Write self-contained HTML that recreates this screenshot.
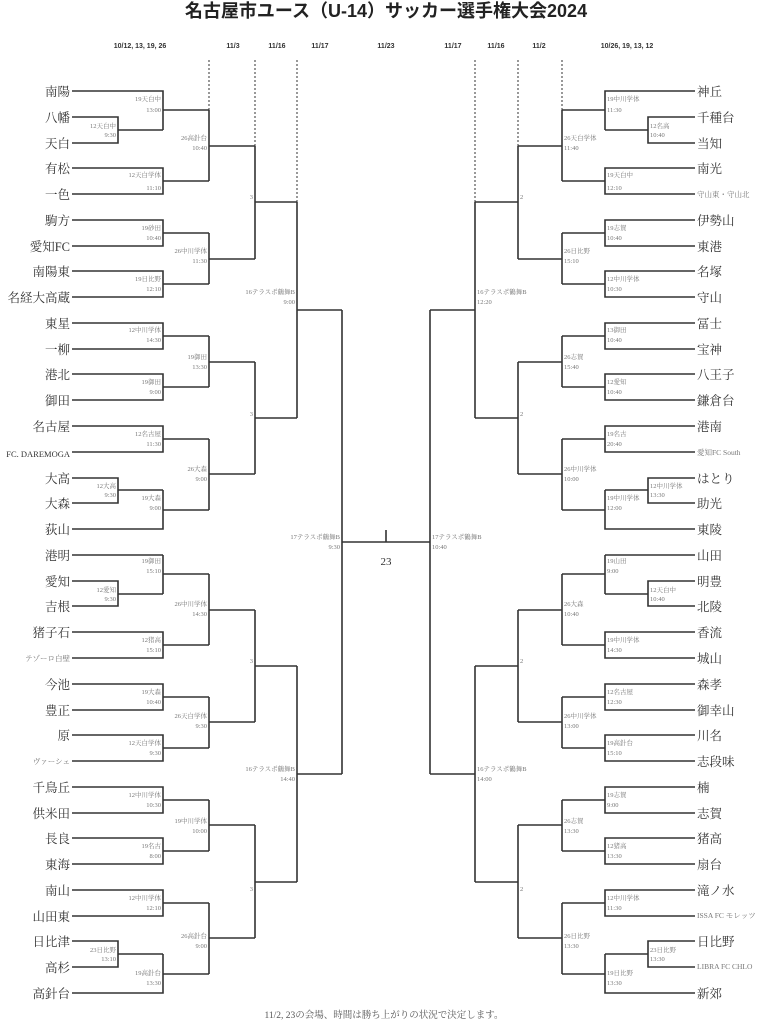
<!DOCTYPE html>
<html><head><meta charset="utf-8"><style>
html,body{margin:0;padding:0;background:#fff;}
svg{display:block;}
.t{font-family:"Liberation Serif","Noto Serif CJK SC",serif;font-size:12.5px;fill:#333;}
.ts{font-family:"Liberation Serif","Noto Serif CJK SC",serif;font-size:7.5px;fill:#777;}
.l{font-family:"Liberation Serif","Noto Serif CJK SC",serif;font-size:6.5px;fill:#777;}
.h{font-family:"Liberation Sans",sans-serif;font-size:7px;font-weight:bold;fill:#333;}
</style></head><body>
<svg width="767" height="1024" viewBox="0 0 767 1024" xmlns="http://www.w3.org/2000/svg">
<text x="386" y="17" text-anchor="middle" style="font-family:'Liberation Sans','Noto Sans CJK JP',sans-serif;font-size:18px;font-weight:bold;fill:#222">名古屋市ユース（U-14）サッカー選手権大会2024</text>
<g class="h" text-anchor="middle">
<text x="140" y="48">10/12, 13, 19, 26</text><text x="233" y="48">11/3</text><text x="277" y="48">11/16</text><text x="320" y="48">11/17</text><text x="386" y="48">11/23</text>
<text x="453" y="48">11/17</text><text x="496" y="48">11/16</text><text x="539" y="48">11/2</text><text x="627" y="48">10/26, 19, 13, 12</text>
</g>
<g stroke="#555" stroke-width="1.2" stroke-dasharray="2,2" fill="none">
<path d="M209 60V110M255 60V146M297 60V202M562 60V110M518 60V146M475 60V202"/>
</g>
<g stroke="#333" stroke-width="1.6" fill="none">
<path d="M72 117H118V143H72M118 130H163M72 91H163V130M163 110H209M72 168H163V194H72M163 181H209M209 110V181M209 146H255
M72 220H163V246H72M163 233H209M72 271H163V297H72M163 284H209M209 233V284M209 259H255M255 146V259M255 202H297
M72 323H163V349H72M163 336H209M72 374H163V400H72M163 387H209M209 336V387M209 362H255
M72 426H163V452H72M163 439H209M72 478H118V503H72M118 490H163M72 529H163V490M163 510H209M209 439V510M209 474H255
M255 362V474M255 418H297M297 202V418M297 310H342
M72 555H163M72 581H118V606H72M118 594H163M163 555V594M163 574H209M72 632H163V658H72M163 645H209M209 574V645M209 610H255
M72 684H163V710H72M163 697H209M72 735H163V761H72M163 748H209M209 697V748M209 722H255M255 610V722M255 666H297
M72 787H163V813H72M163 800H209M72 838H163V864H72M163 851H209M209 800V851M209 825H255
M72 890H163V916H72M163 903H209M72 941H118V967H72M118 954H163M72 993H163V954M163 974H209M209 903V974M209 938H255
M255 825V938M255 882H297M297 666V882M297 774H342M342 310V774M342 542H430M386 530V542"/>
<path d="M695 117H648V143H695M648 130H605M695 91H605V130M605 110H562M695 168H605V194H695M605 181H562M562 110V181M562 146H518
M695 220H605V246H695M605 233H562M695 271H605V297H695M605 284H562M562 233V284M562 259H518M518 146V259M518 202H475
M695 323H605V349H695M605 336H562M695 374H605V400H695M605 387H562M562 336V387M562 362H518
M695 426H605V452H695M605 439H562M695 478H648V503H695M648 490H605M695 529H605V490M605 510H562M562 439V510M562 474H518
M518 362V474M518 418H475M475 202V418M475 310H430
M695 555H605M695 581H648V606H695M648 594H605M605 555V594M605 574H562M695 632H605V658H695M605 645H562M562 574V645M562 610H518
M695 684H605V710H695M605 697H562M695 735H605V761H695M605 748H562M562 697V748M562 722H518M518 610V722M518 666H475
M695 787H605V813H695M605 800H562M695 838H605V864H695M605 851H562M562 800V851M562 825H518
M695 890H605V916H695M605 903H562M695 941H648V967H695M648 954H605M695 993H605V954M605 974H562M562 903V974M562 938H518
M518 825V938M518 882H475M475 666V882M475 774H430M430 310V774"/>
</g>
<text x="386" y="565" text-anchor="middle" style="font-family:'Liberation Serif',serif;font-size:11px;fill:#333">23</text>
<g class="t" text-anchor="end">
<text x="70" y="96">南陽</text><text x="70" y="122">八幡</text><text x="70" y="148">天白</text><text x="70" y="173">有松</text><text x="70" y="199">一色</text><text x="70" y="225">駒方</text><text x="70" y="251">愛知FC</text><text x="70" y="276">南陽東</text><text x="70" y="302">名経大高蔵</text>
<text x="70" y="328">東星</text><text x="70" y="354">一柳</text><text x="70" y="379">港北</text><text x="70" y="405">御田</text><text x="70" y="431">名古屋</text><text x="70" y="457" style="font-size:8.5px">FC. DAREMOGA</text><text x="70" y="483">大高</text><text x="70" y="508">大森</text><text x="70" y="534">荻山</text>
<text x="70" y="560">港明</text><text x="70" y="586">愛知</text><text x="70" y="611">吉根</text><text x="70" y="637">猪子石</text><text x="70" y="661" class="ts">テゾーロ白壁</text><text x="70" y="689">今池</text><text x="70" y="715">豊正</text><text x="70" y="740">原</text><text x="70" y="764" class="ts">ヴァーシェ</text>
<text x="70" y="792">千鳥丘</text><text x="70" y="818">供米田</text><text x="70" y="843">長良</text><text x="70" y="869">東海</text><text x="70" y="895">南山</text><text x="70" y="921">山田東</text><text x="70" y="946">日比津</text><text x="70" y="972">高杉</text><text x="70" y="998">高針台</text>
</g>
<g class="t">
<text x="697" y="96">神丘</text><text x="697" y="122">千種台</text><text x="697" y="148">当知</text><text x="697" y="173">南光</text><text x="697" y="197" class="ts">守山東・守山北</text><text x="697" y="225">伊勢山</text><text x="697" y="251">東港</text><text x="697" y="276">名塚</text><text x="697" y="302">守山</text>
<text x="697" y="328">冨士</text><text x="697" y="354">宝神</text><text x="697" y="379">八王子</text><text x="697" y="405">鎌倉台</text><text x="697" y="431">港南</text><text x="697" y="455" class="ts">愛知FC South</text><text x="697" y="483">はとり</text><text x="697" y="508">助光</text><text x="697" y="534">東陵</text>
<text x="697" y="560">山田</text><text x="697" y="586">明豊</text><text x="697" y="611">北陵</text><text x="697" y="637">香流</text><text x="697" y="663">城山</text><text x="697" y="689">森孝</text><text x="697" y="715">御幸山</text><text x="697" y="740">川名</text><text x="697" y="766">志段味</text>
<text x="697" y="792">楠</text><text x="697" y="818">志賀</text><text x="697" y="843">猪高</text><text x="697" y="869">扇台</text><text x="697" y="895">滝ノ水</text><text x="697" y="918" class="ts">ISSA FC モレッツ</text><text x="697" y="946">日比野</text><text x="697" y="969" class="ts">LIBRA FC CHLO</text><text x="697" y="998">新郊</text>
</g>
<g class="l" text-anchor="end">
<text x="116" y="128">12天白中</text><text x="116" y="137">9:30</text>
<text x="116" y="488">12大高</text><text x="116" y="497">9:30</text>
<text x="116" y="592">12愛知</text><text x="116" y="601">9:30</text>
<text x="116" y="952">23日比野</text><text x="116" y="961">13:10</text>
<text x="161" y="101">19天白中</text><text x="161" y="112">13:00</text>
<text x="161" y="177">12天白学体</text><text x="161" y="190">11:10</text>
<text x="161" y="230">19砂田</text><text x="161" y="240">10:40</text>
<text x="161" y="281">19日比野</text><text x="161" y="291">12:10</text>
<text x="161" y="332">12中川学体</text><text x="161" y="342">14:30</text>
<text x="161" y="384">19御田</text><text x="161" y="394">9:00</text>
<text x="161" y="436">12名古屋</text><text x="161" y="446">11:30</text>
<text x="161" y="500">19大森</text><text x="161" y="510">9:00</text>
<text x="161" y="563">19御田</text><text x="161" y="573">15:10</text>
<text x="161" y="642">12猪高</text><text x="161" y="652">15:10</text>
<text x="161" y="694">19大森</text><text x="161" y="704">10:40</text>
<text x="161" y="745">12天白学体</text><text x="161" y="755">9:30</text>
<text x="161" y="797">12中川学体</text><text x="161" y="807">10:30</text>
<text x="161" y="848">19名古</text><text x="161" y="858">8:00</text>
<text x="161" y="900">12中川学体</text><text x="161" y="910">12:10</text>
<text x="161" y="975">19高針台</text><text x="161" y="985">13:30</text>
<text x="207" y="140">26高針台</text><text x="207" y="150">10:40</text>
<text x="207" y="253">26中川学体</text><text x="207" y="263">11:30</text>
<text x="207" y="359">19御田</text><text x="207" y="369">13:30</text>
<text x="207" y="471">26大森</text><text x="207" y="481">9:00</text>
<text x="207" y="606">26中川学体</text><text x="207" y="616">14:30</text>
<text x="207" y="718">26天白学体</text><text x="207" y="728">9:30</text>
<text x="207" y="823">19中川学体</text><text x="207" y="833">10:00</text>
<text x="207" y="938">26高針台</text><text x="207" y="948">9:00</text>
<text x="253" y="199">3</text><text x="253" y="416">3</text><text x="253" y="663">3</text><text x="253" y="891">3</text>
<text x="295" y="294">16テラスポ鶴舞B</text><text x="295" y="304">9:00</text>
<text x="295" y="771">16テラスポ鶴舞B</text><text x="295" y="781">14:40</text>
<text x="340" y="539">17テラスポ鶴舞B</text><text x="340" y="549">9:30</text>
</g>
<g class="l">
<text x="650" y="128">12名高</text><text x="650" y="137">10:40</text>
<text x="650" y="488">12中川学体</text><text x="650" y="497">13:30</text>
<text x="650" y="592">12天白中</text><text x="650" y="601">10:40</text>
<text x="650" y="952">23日比野</text><text x="650" y="961">13:30</text>
<text x="607" y="101">19中川学体</text><text x="607" y="112">11:30</text>
<text x="607" y="177">19天白中</text><text x="607" y="190">12:10</text>
<text x="607" y="230">19志賀</text><text x="607" y="240">10:40</text>
<text x="607" y="281">12中川学体</text><text x="607" y="291">10:30</text>
<text x="607" y="332">13御田</text><text x="607" y="342">10:40</text>
<text x="607" y="384">12愛知</text><text x="607" y="394">10:40</text>
<text x="607" y="436">19名古</text><text x="607" y="446">20:40</text>
<text x="607" y="500">19中川学体</text><text x="607" y="510">12:00</text>
<text x="607" y="563">19山田</text><text x="607" y="573">9:00</text>
<text x="607" y="642">19中川学体</text><text x="607" y="652">14:30</text>
<text x="607" y="694">12名古屋</text><text x="607" y="704">12:30</text>
<text x="607" y="745">19高針台</text><text x="607" y="755">15:10</text>
<text x="607" y="797">19志賀</text><text x="607" y="807">9:00</text>
<text x="607" y="848">12猪高</text><text x="607" y="858">13:30</text>
<text x="607" y="900">12中川学体</text><text x="607" y="910">11:30</text>
<text x="607" y="975">19日比野</text><text x="607" y="985">13:30</text>
<text x="564" y="140">26天白学体</text><text x="564" y="150">11:40</text>
<text x="564" y="253">26日比野</text><text x="564" y="263">15:10</text>
<text x="564" y="359">26志賀</text><text x="564" y="369">15:40</text>
<text x="564" y="471">26中川学体</text><text x="564" y="481">10:00</text>
<text x="564" y="606">26大森</text><text x="564" y="616">10:40</text>
<text x="564" y="718">26中川学体</text><text x="564" y="728">13:00</text>
<text x="564" y="823">26志賀</text><text x="564" y="833">13:30</text>
<text x="564" y="938">26日比野</text><text x="564" y="948">13:30</text>
<text x="520" y="199">2</text><text x="520" y="416">2</text><text x="520" y="663">2</text><text x="520" y="891">2</text>
<text x="477" y="294">16テラスポ鶴舞B</text><text x="477" y="304">12:20</text>
<text x="477" y="771">16テラスポ鶴舞B</text><text x="477" y="781">14:00</text>
<text x="432" y="539">17テラスポ鶴舞B</text><text x="432" y="549">10:40</text>
</g>
<text x="384" y="1018" text-anchor="middle" style="font-family:'Liberation Serif','Noto Serif CJK JP',serif;font-size:9.5px;fill:#555">11/2, 23の会場、時間は勝ち上がりの状況で決定します。</text>
</svg>
</body></html>
